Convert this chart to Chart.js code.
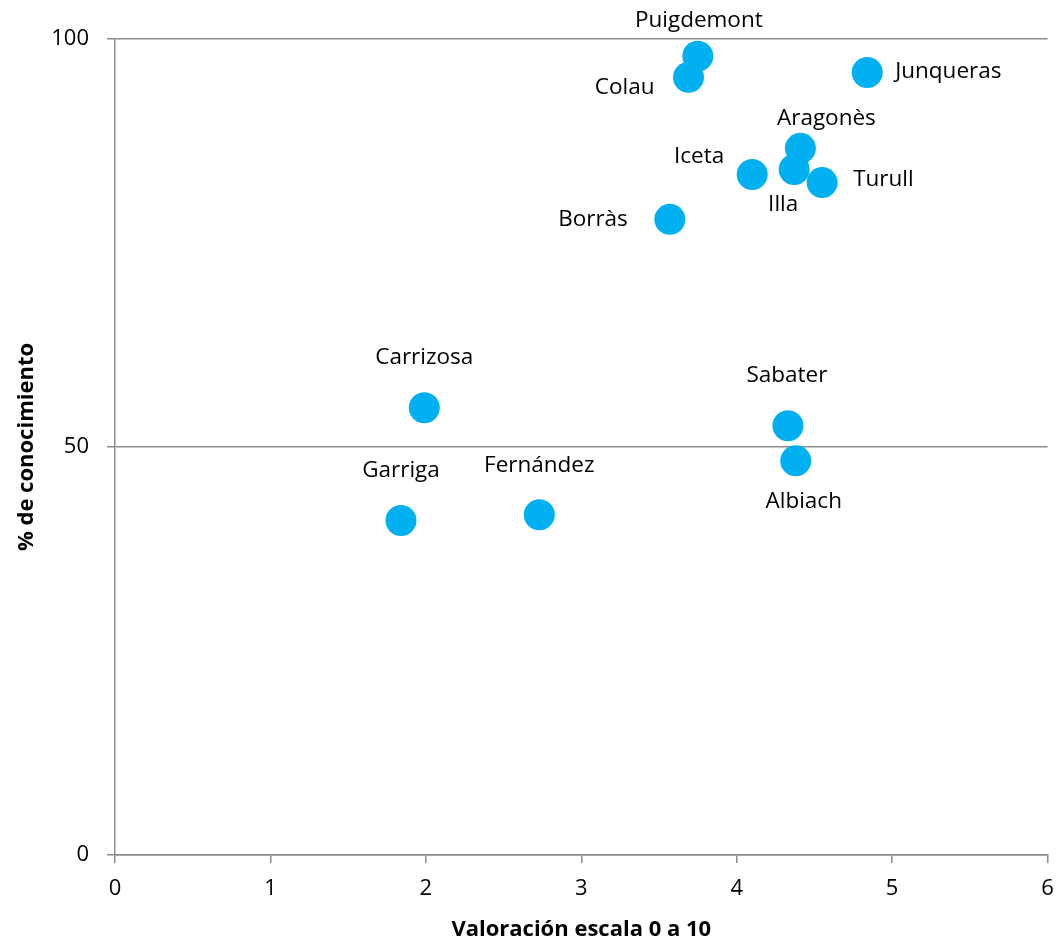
<!DOCTYPE html>
<html>
<head>
<meta charset="utf-8">
<script src="https://cdn.jsdelivr.net/npm/chart.js@4.4.1/dist/chart.umd.min.js"></script>
<style>
html,body{margin:0;padding:0;background:#fff;overflow:hidden;}
#wrap{width:1057px;height:944px;position:relative;overflow:hidden;}
</style>
</head>
<body>
<div id="wrap"><canvas id="c" width="1063" height="944"></canvas></div>
<script>
// ---- data ----
const names = ['Puigdemont','Colau','Junqueras','Aragonès','Iceta','Illa','Turull','Borràs','Carrizosa','Sabater','Albiach','Garriga','Fernández'];
const valoracion = [3.75, 3.69, 4.84, 4.41, 4.10, 4.37, 4.55, 3.57, 1.99, 4.33, 4.38, 1.84, 2.73];
const conocimiento = [97.9, 95.3, 95.9, 86.6, 83.4, 84.0, 82.4, 77.9, 54.8, 52.6, 48.3, 41.0, 41.7];
const xTicks = [0,1,2,3,4,5,6];
const yTicks = [0,50,100];
const xTitle = 'Valoración escala 0 a 10';
const yTitle = '% de conocimiento';

// ---- label placement (style) ----
const labelStyle = [
  {align:'center', dx:1,   dy:-36},
  {align:'right',  dx:-34, dy:10},
  {align:'left',   dx:28,  dy:-1},
  {align:'center', dx:26,  dy:-30},
  {align:'right',  dx:-28, dy:-18},
  {align:'center', dx:-11, dy:35},
  {align:'left',   dx:31,  dy:-3},
  {align:'right',  dx:-42, dy:0},
  {align:'center', dx:0,   dy:-50},
  {align:'center', dx:-1,  dy:-50},
  {align:'center', dx:8,   dy:41},
  {align:'center', dx:0,   dy:-50},
  {align:'center', dx:0,   dy:-49}
];

const FONT = "'Open Sans', 'DejaVu Sans', sans-serif";
const GRID = '#8c8c8c';

const labelPlugin = {
  id: 'pointLabels',
  afterDatasetsDraw(chart) {
    const ctx = chart.ctx;
    const meta = chart.getDatasetMeta(0);
    ctx.save();
    ctx.font = "22.5px " + FONT;
    ctx.fillStyle = '#000';
    ctx.textBaseline = 'middle';
    meta.data.forEach((pt, i) => {
      const s = labelStyle[i];
      ctx.textAlign = s.align;
      ctx.fillText(names[i], pt.x + s.dx, pt.y + s.dy);
    });
    ctx.restore();
  }
};

const LEFT = 115, BOTTOM = 855;
new Chart(document.getElementById('c'), {
  type: 'scatter',
  data: {
    datasets: [{
      data: valoracion.map((v, i) => ({x: v, y: conocimiento[i]})),
      backgroundColor: '#00B0F0',
      borderColor: '#00B0F0',
      borderWidth: 0,
      pointRadius: 15.5,
      pointHoverRadius: 15.5
    }]
  },
  options: {
    responsive: false,
    animation: false,
    layout: {padding: {top: 39, right: 3, left: 0, bottom: 0}},
    plugins: {legend: {display: false}, tooltip: {enabled: false}},
    scales: {
      x: {
        type: 'linear', min: 0, max: 6,
        afterBuildTicks: s => { s.ticks = xTicks.map(v => ({value: v})); },
        afterFit: s => { s.height = 944 - BOTTOM; s.paddingLeft = 0; s.paddingRight = 0; },
        grid: {drawOnChartArea: false, drawTicks: true, tickLength: 8, color: GRID, lineWidth: 1.5},
        border: {display: true, color: GRID, width: 1.5},
        ticks: {font: {family: FONT, size: 22}, color: '#000', padding: 13, maxRotation: 0},
        title: {display: true, text: xTitle, font: {family: FONT, size: 22, weight: 'bold'}, color: '#000', padding: {top: 8, bottom: 1}}
      },
      y: {
        type: 'linear', min: 0, max: 100,
        afterBuildTicks: s => { s.ticks = yTicks.map(v => ({value: v})); },
        afterFit: s => { s.width = LEFT; s.paddingTop = 0; s.paddingBottom = 0; },
        grid: {drawOnChartArea: true, drawTicks: true, tickLength: 8, color: GRID, lineWidth: 1.5},
        border: {display: true, color: GRID, width: 1.5},
        ticks: {font: {family: FONT, size: 22}, color: '#000', padding: 18},
        title: {display: true, text: yTitle, font: {family: FONT, size: 22, weight: 'bold'}, color: '#000', padding: {top: 14, bottom: 0}}
      }
    }
  },
  plugins: [labelPlugin]
});
</script>
</body>
</html>
